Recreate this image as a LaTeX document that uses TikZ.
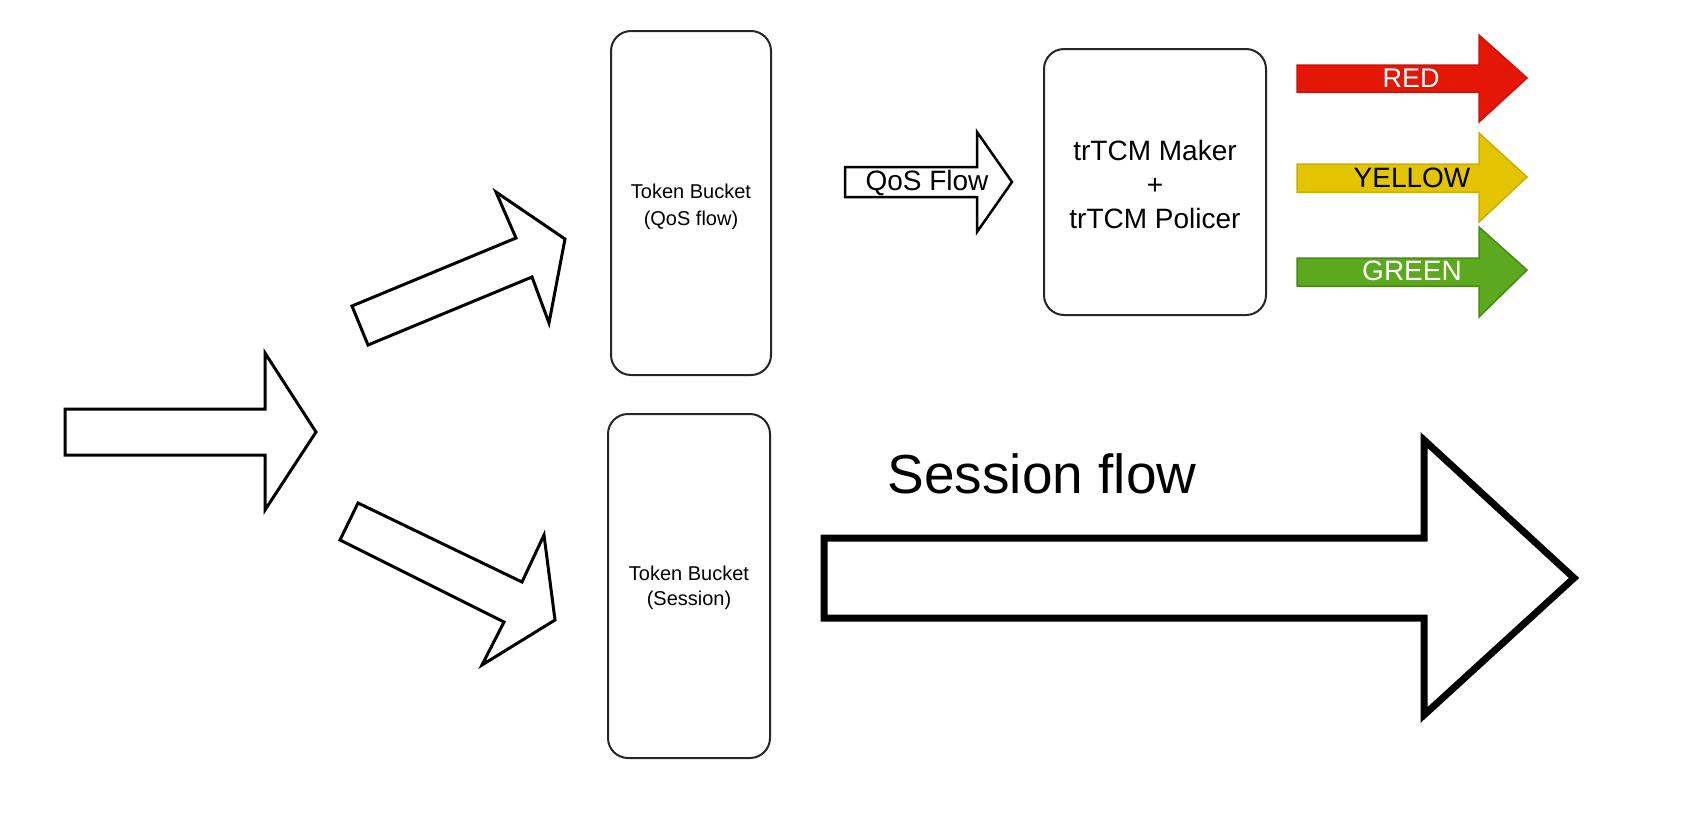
\documentclass[tikz,border=0pt]{standalone}
\usepackage{fontspec}
\setmainfont{Liberation Sans}
\definecolor{arred}{RGB}{228,22,6}
\definecolor{arredline}{RGB}{200,20,10}
\definecolor{aryel}{RGB}{226,196,0}
\definecolor{aryelline}{RGB}{205,175,0}
\definecolor{argrn}{RGB}{92,168,30}
\definecolor{argrnline}{RGB}{70,140,20}
\begin{document}
\begin{tikzpicture}[x=1pt,y=-1pt,
  bucket/.style={draw=black!85, line width=2pt, rounded corners=20pt, inner sep=0pt},
  blockarrow/.style={draw=black, line width=3pt, line join=miter, fill=white},
  lbl/.style={inner sep=0pt, align=center},
]
\useasboundingbox[fill=white] (0,0) rectangle (1684,836);

% boxes
\node[bucket, minimum width=160pt, minimum height=344pt] (tbq) at (691,203) {};
\node[bucket, minimum width=162pt, minimum height=344pt] (tbs) at (689,586) {};
\node[bucket, minimum width=222pt, minimum height=266pt] (trtcm) at (1155,182) {};

\node[lbl, font=\fontsize{20}{27}\selectfont] (tbqt) at (tbq.center) [yshift=-4pt] {Token Bucket\\(QoS flow)};
\node[lbl, font=\fontsize{20}{25}\selectfont] (tbst) at (tbs.center) [yshift=-2pt] {Token Bucket\\(Session)};
\node[lbl, font=\fontsize{28}{34}\selectfont] (trt) at (trtcm.center) [yshift=-2pt] {trTCM Maker\\+\\trTCM Policer};

% input arrow
\draw[blockarrow] (65,409) -- (265,409) -- (265,353) -- (316,432) -- (265,510) -- (265,455) -- (65,455) -- cycle;
% upper diagonal
\draw[blockarrow] (352,306) -- (516,238) -- (496,192) -- (565,239) -- (549,323) -- (532,277) -- (368,345) -- cycle;
% lower diagonal
\draw[blockarrow] (358,503) -- (522,582) -- (544,535) -- (555,620) -- (482,665) -- (504,622) -- (340,540) -- cycle;

% QoS flow arrow
\draw[blockarrow, line width=2.5pt] (845,167) -- (977,167) -- (977,132) -- (1012,182) -- (977,232) -- (977,197) -- (845,197) -- cycle;
\node[lbl, font=\fontsize{28}{30}\selectfont] (qos) at (927,183) {QoS Flow};

% session flow arrow
\draw[blockarrow, line width=7pt] (824,538) -- (1424,538) -- (1424,440) -- (1574,578) -- (1424,715) -- (1424,618) -- (824,618) -- cycle;
\node[lbl, anchor=base, font=\fontsize{55}{60}\selectfont] (sess) at (1042,493) {Session flow};

% colour arrows
\draw[fill=arred, draw=arredline, line width=1.5pt] (1297,65) -- (1479,65) -- (1479,35) -- (1527,78) -- (1479,122) -- (1479,92) -- (1297,92) -- cycle;
\node[lbl, text=white, font=\fontsize{27}{30}\selectfont] (red) at (1411,78) {RED};
\draw[fill=aryel, draw=aryelline, line width=1.5pt] (1297,164) -- (1479,164) -- (1479,133) -- (1527,177) -- (1479,222) -- (1479,192) -- (1297,192) -- cycle;
\node[lbl, text=black, font=\fontsize{28}{30}\selectfont] (yel) at (1412,178) {YELLOW};
\draw[fill=argrn, draw=argrnline, line width=1.5pt] (1297,258) -- (1479,258) -- (1479,227) -- (1527,270) -- (1479,317) -- (1479,286) -- (1297,286) -- cycle;
\node[lbl, text=white, font=\fontsize{28}{30}\selectfont] (grn) at (1412,271) {GREEN};
\end{tikzpicture}
\end{document}
